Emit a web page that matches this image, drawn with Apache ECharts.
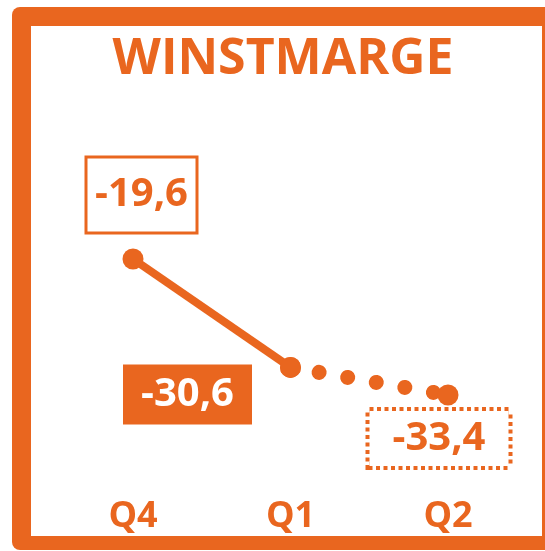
<!DOCTYPE html>
<html>
<head>
<meta charset="utf-8">
<script src="https://cdn.jsdelivr.net/npm/echarts@6/dist/echarts.min.js"></script>
<style>
html,body{margin:0;padding:0;background:#fff;}
#chart{width:545px;height:551px;}
</style>
</head>
<body>
<div id="chart"></div>
<script>
const titleText = 'WINSTMARGE';
const categories = ['Q4', 'Q1', 'Q2'];
const actualValues = [-19.6, -30.6, null];
const forecastValues = [null, -30.6, -33.4];

const ORANGE = '#E9661F';
const FONT = '"Open Sans", "DejaVu Sans", sans-serif';
const fmt = function (p) { return Number(p.value).toFixed(1).replace('.', ','); };

const baseLabel = {
  show: true,
  position: 'inside',
  formatter: fmt,
  fontFamily: FONT,
  fontWeight: 'bold',
  fontSize: 40,
  align: 'center'
};
const labelStyles = [
  Object.assign({}, baseLabel, {
    color: ORANGE, backgroundColor: '#fff', borderColor: ORANGE, borderWidth: 3,
    width: 108, lineHeight: 73, height: 73, offset: [8.5, -64]
  }),
  Object.assign({}, baseLabel, {
    color: '#fff', backgroundColor: ORANGE, borderWidth: 0,
    width: 129, lineHeight: 60, height: 60, offset: [-103, 27]
  }),
  Object.assign({}, baseLabel, {
    color: ORANGE, backgroundColor: '#fff', borderColor: ORANGE, borderWidth: 4,
    borderType: [4, 3.5], width: 139, lineHeight: 55, height: 55, offset: [-9, 43.5]
  })
];

function buildData(values, labelIdx) {
  return values.map(function (v, i) {
    if (v === null) return null;
    const item = { value: v };
    item.label = labelIdx.indexOf(i) >= 0 ? labelStyles[i] : { show: false };
    return item;
  });
}

const chart = echarts.init(document.getElementById('chart'), null, { renderer: 'canvas' });
chart.setOption({
  backgroundColor: '#fff',
  animation: false,
  graphic: [
    { type: 'rect', z: 0, shape: { x: 12, y: 7, width: 600, height: 543, r: 8 }, style: { fill: ORANGE } },
    { type: 'rect', z: 0, shape: { x: 31, y: 26, width: 511, height: 510 }, style: { fill: '#fff' } },
    { type: 'text', z: 1, x: 283, y: 60, style: {
        text: titleText, fill: ORANGE, font: 'bold 50px ' + FONT,
        align: 'center', verticalAlign: 'middle' } }
  ],
  grid: { left: 133, right: 97, top: 164.4, bottom: 91, containLabel: false },
  xAxis: {
    type: 'category',
    data: categories,
    boundaryGap: false,
    axisLine: { show: false },
    axisTick: { show: false },
    splitLine: { show: false },
    axisLabel: {
      margin: 39, color: ORANGE, fontFamily: FONT, fontWeight: 'bold', fontSize: 36, lineHeight: 36
    }
  },
  yAxis: {
    type: 'value', min: -40, max: -10,
    show: false,
    splitLine: { show: false }
  },
  series: [
    {
      type: 'line',
      data: buildData(actualValues, [0, 1]),
      symbol: 'circle', symbolSize: 21,
      itemStyle: { color: ORANGE },
      lineStyle: { color: ORANGE, width: 8 },
      z: 3
    },
    {
      type: 'line',
      data: buildData(forecastValues, [2]),
      symbol: 'circle', symbolSize: 21,
      itemStyle: { color: ORANGE },
      lineStyle: { color: ORANGE, width: 15, type: [0.01, 29], cap: 'round' },
      z: 2
    }
  ]
});
</script>
</body>
</html>
